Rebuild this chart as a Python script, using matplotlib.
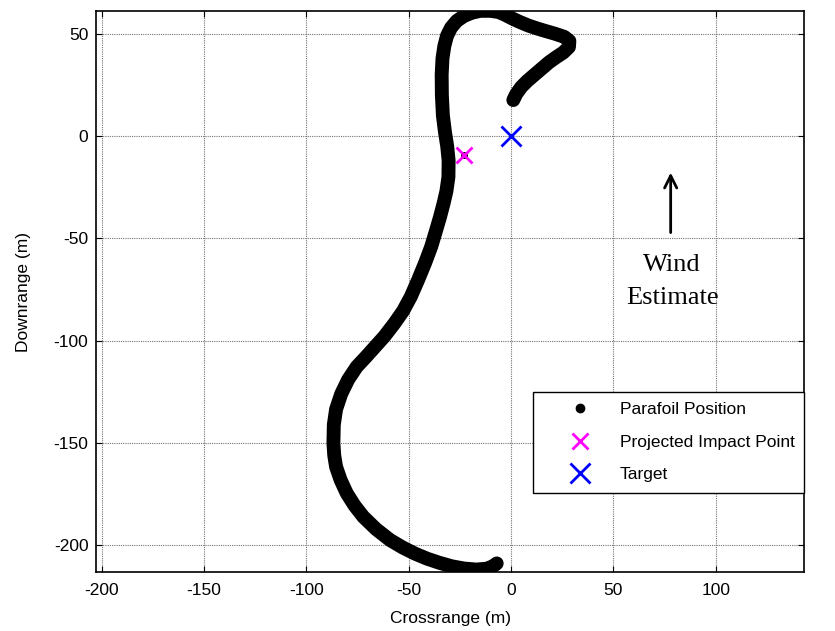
import numpy as np
import matplotlib
matplotlib.use('Agg')
import matplotlib.pyplot as plt

# parafoil track, crossrange / downrange (m)
track_x = [1.1, 2.5, 5.0, 8.0, 11.5, 15.0, 18.5, 22.0, 25.5, 28.3, 28.5, 26.0,
           21.5, 17.0, 13.0, 8.5, 4.4, 0.5, -3.0, -6.0, -10.0, -15.0, -19.0,
           -23.0, -26.5, -29.3, -31.3, -32.6, -33.5, -33.9, -33.8, -33.3, -32.3,
           -31.2, -30.5, -30.6, -31.6, -33.0, -34.7, -36.6, -39.0, -42.0, -45.5,
           -49.0, -52.8, -57.0, -62.0, -66.5, -71.0, -75.4, -79.6, -83.0, -85.5,
           -86.6, -86.8, -86.4, -85.5, -83.3, -80.3, -76.5, -72.2, -66.0, -59.1,
           -53.0, -47.0, -41.0, -35.0, -29.0, -23.0, -17.0, -12.0, -8.8, -7.0]
track_y = [17.6, 20.5, 24.0, 27.0, 30.0, 33.0, 36.0, 38.5, 40.8, 43.5, 46.5, 48.5,
           50.0, 51.3, 52.5, 54.0, 55.7, 57.5, 59.3, 60.6, 61.2, 61.2, 60.3,
           58.7, 56.3, 53.0, 49.0, 44.0, 38.0, 30.0, 20.0, 10.0, 2.0,
           -5.0, -12.0, -20.0, -27.0, -33.0, -39.5, -46.0, -54.0, -62.0, -70.5,
           -78.5, -85.5, -91.5, -98.0, -103.0, -108.0, -112.7, -119.0, -126.0, -133.5,
           -141.0, -150.0, -156.0, -161.6, -168.0, -174.5, -180.5, -186.0, -192.0, -197.4,
           -201.0, -204.0, -206.5, -208.5, -210.2, -211.3, -211.8, -211.4, -210.2, -208.8]

impact_x, impact_y = -22.8, -9.3
target_x, target_y = 0.0, 0.0

x_ticks = [-200, -150, -100, -50, 0, 50, 100]
y_ticks = [-200, -150, -100, -50, 0, 50]

plt.rcParams['font.family'] = ['Liberation Sans', 'DejaVu Sans']
plt.rcParams['axes.unicode_minus'] = False

fig = plt.figure(figsize=(8.35, 6.31), dpi=100)
ax = fig.add_axes([0.115, 0.0935, 0.848, 0.889])

ax.plot(track_x, track_y, color='k', lw=10, solid_capstyle='round',
        solid_joinstyle='round', zorder=3)
ax.plot(track_x[-1], track_y[-1], 'o', color='k', ms=6, zorder=3,
        label='Parafoil Position')
ax.plot(impact_x, impact_y, 'o', color='k', ms=4, zorder=4)
ax.plot(impact_x, impact_y, 'x', color='magenta', ms=12, mew=2, zorder=5,
        label='Projected Impact Point')
ax.plot(target_x, target_y, 'x', color='blue', ms=14, mew=2, zorder=5,
        label='Target')

# wind estimate arrow
ax.annotate('', xy=(78, -16.5), xytext=(78, -48.5),
            arrowprops=dict(arrowstyle='->', color='k', lw=2, mutation_scale=22))
ax.text(78.7, -63, 'Wind', family='Liberation Serif', fontsize=19,
        ha='center', va='center')
ax.text(78.7, -79, 'Estimate', family='Liberation Serif', fontsize=19,
        ha='center', va='center')

ax.set_xlim(-202.8, 143.2)
ax.set_ylim(-213.0, 61.1)
ax.set_xticks(x_ticks)
ax.set_yticks(y_ticks)
ax.tick_params(direction='in', top=True, right=True, length=4, labelsize=12.5)
ax.tick_params(axis='x', pad=8)
ax.tick_params(axis='y', pad=5.5)
ax.grid(True, color='0.45', ls=(0, (1, 1)), lw=0.8)
ax.set_axisbelow(True)
for s in ax.spines.values():
    s.set_linewidth(1.2)

ax.set_xlabel('Crossrange (m)', fontsize=12.5, labelpad=9)
ax.set_ylabel('Downrange (m)', fontsize=12.5, labelpad=16)

leg = ax.legend(loc='lower right', bbox_to_anchor=(0.617, 0.141, 0.383, 0.176),
                mode='expand', fontsize=12.5, fancybox=False, edgecolor='k',
                framealpha=1, borderpad=0.6, labelspacing=1.0,
                handlelength=4.2, handletextpad=0.2, borderaxespad=0)
leg.get_frame().set_linewidth(1)

fig.savefig('out.png', dpi=100)
